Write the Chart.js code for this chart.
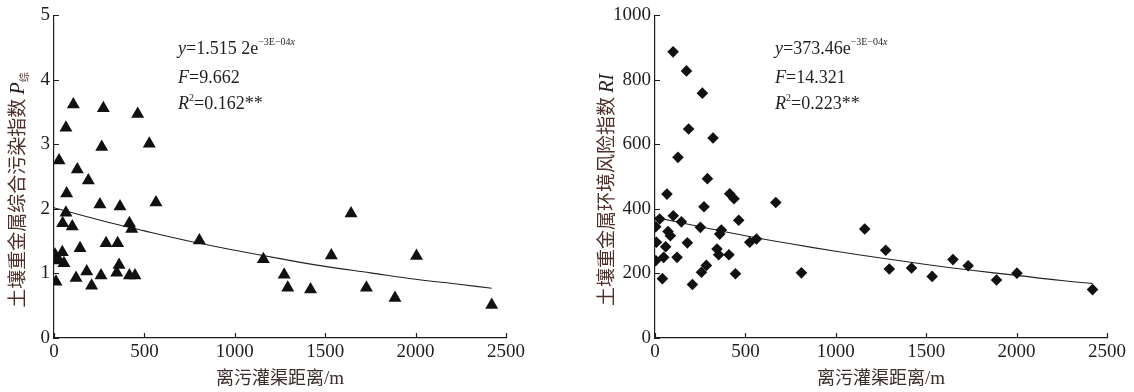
<!DOCTYPE html>
<html>
<head>
<meta charset="utf-8">
<script src="https://cdn.jsdelivr.net/npm/chart.js"></script>
<style>
  html, body { margin: 0; padding: 0; background: #fff; }
  #wrap { position: relative; width: 1134px; height: 392px; }
  canvas { position: absolute; top: 0; }
</style>
</head>
<body>
<div id="wrap">
  <canvas id="left" width="567" height="392" style="left:0"></canvas>
  <canvas id="right" width="567" height="392" style="left:567px"></canvas>
</div>
<script>
// distance to the irrigation channel (m) and the two indices
const xTicks = [0, 500, 1000, 1500, 2000, 2500];

const leftX = [107, 273, 463, 66, 264, 527, 28, 129, 190, 70, 254, 365, 564, 66, 48, 101, 417, 430, 288, 352,
  144, 6, 46, 6, 55, 360, 181, 260, 347, 417, 448, 122, 11, 208, 804, 1158, 1273, 1293, 1419, 1534,
  1643, 1728, 1886, 2005, 2421, 24];
const leftY = [3.62, 3.56, 3.47, 3.26, 2.96, 3.01, 2.75, 2.61, 2.44, 2.24, 2.07, 2.04, 2.10, 1.94, 1.78, 1.73, 1.78, 1.69, 1.47, 1.47,
  1.39, 1.29, 1.33, 1.20, 1.16, 1.13, 1.03, 0.97, 1.01, 0.97, 0.97, 0.93, 0.87, 0.81, 1.51, 1.22, 0.98, 0.78, 0.75, 1.28,
  1.93, 0.78, 0.62, 1.27, 0.51, 1.22];

const rightX = [100, 174, 262, 186, 321, 127, 290, 66, 413, 437, 271, 668, 463, 26, 4, 101, 146, 251, 367, 358,
  72, 85, 8, 59, 179, 524, 561, 343, 352, 409, 122, 48, 4, 284, 257, 445, 41, 207, 810, 1160,
  1276, 1296, 1419, 1533, 1648, 1732, 1889, 2002, 2420];
const rightY = [887, 828, 759, 648, 620, 560, 494, 446, 447, 432, 407, 420, 365, 369, 345, 379, 360, 343, 335, 322,
  330, 317, 297, 283, 295, 297, 307, 276, 258, 258, 250, 250, 240, 225, 204, 199, 184, 166, 202, 338,
  272, 214, 217, 191, 243, 224, 180, 201, 150];

// fitted curves
const leftFitX = [0, 250, 500, 750, 1000, 1250, 1500, 1750, 2000, 2250, 2421];
const leftFitY = [2.02, 1.83, 1.66, 1.50, 1.36, 1.23, 1.11, 1.01, 0.91, 0.83, 0.77];
const rightFitX = [0, 250, 500, 750, 1000, 1250, 1500, 1750, 2000, 2250, 2420];
const rightFitY = [374, 345, 317, 292, 269, 248, 228, 210, 194, 178, 169];

const SERIF = '"Liberation Serif", "Times New Roman", serif';
const CJK = '"Noto Sans CJK SC", sans-serif';
const INK = '#1e1e1e';
const BROWN = '#4e2f2a';

function pairs(xs, ys) {
  return xs.map((x, i) => ({ x: x, y: ys[i] }));
}

function drawRuns(ctx, x, y, runs, align) {
  let total = 0;
  runs.forEach(r => { ctx.font = r.font; total += ctx.measureText(r.t).width; });
  let cx = align === 'center' ? x - total / 2 : x;
  ctx.textAlign = 'left';
  ctx.textBaseline = 'alphabetic';
  runs.forEach(r => {
    ctx.font = r.font;
    ctx.fillStyle = r.color || INK;
    ctx.fillText(r.t, cx, y + (r.dy || 0));
    cx += ctx.measureText(r.t).width;
  });
}

// inward tick marks, axis titles and the fit equation
function decorPlugin(cfg) {
  return {
    id: 'decor',
    afterDraw(chart) {
      const ctx = chart.ctx;
      const xs = chart.scales.x, ys = chart.scales.y;
      const a = chart.chartArea;
      ctx.save();
      ctx.strokeStyle = INK;
      ctx.lineWidth = 1.2;
      ctx.beginPath();
      xs.ticks.forEach(t => {
        const p = Math.round(xs.getPixelForValue(t.value)) + 0.5;
        ctx.moveTo(p, a.bottom); ctx.lineTo(p, a.bottom - 5);
      });
      ys.ticks.forEach(t => {
        const p = Math.round(ys.getPixelForValue(t.value)) + 0.5;
        ctx.moveTo(a.left, p); ctx.lineTo(a.left + 5, p);
      });
      ctx.stroke();

      // x title
      drawRuns(ctx, (a.left + a.right) / 2, 384, [
        { t: '离污灌渠距离', font: '18px ' + CJK, color: '#3a2e2c' },
        { t: '/m', font: '19px ' + SERIF, color: '#3a2e2c' }
      ], 'center');

      // y title (rotated)
      ctx.save();
      ctx.translate(cfg.yTitleX, 190);
      ctx.rotate(-Math.PI / 2);
      drawRuns(ctx, 0, 7, cfg.yTitle, 'center');
      ctx.restore();

      // equation block
      const ex = cfg.eqX;
      drawRuns(ctx, ex, 54, cfg.eq1, 'left');
      drawRuns(ctx, ex, 83, cfg.eq2, 'left');
      drawRuns(ctx, ex, 109, cfg.eq3, 'left');
      ctx.restore();
    }
  };
}

function makeChart(id, opts) {
  const tickFont = { family: SERIF, size: 19 };
  return new Chart(document.getElementById(id), {
    type: 'scatter',
    data: {
      datasets: [
        {
          data: pairs(opts.xs, opts.ys),
          pointStyle: opts.marker,
          pointRadius: opts.radius,
          pointHoverRadius: opts.radius,
          backgroundColor: '#111',
          borderColor: '#111',
          borderWidth: 0
        },
        {
          type: 'line',
          data: pairs(opts.fitX, opts.fitY),
          borderColor: '#222',
          borderWidth: 1.1,
          pointRadius: 0,
          tension: 0.4,
          fill: false
        }
      ]
    },
    options: {
      responsive: false,
      devicePixelRatio: 1,
      animation: false,
      layout: { padding: { left: 0, right: opts.padRight, top: 13, bottom: 0 } },
      plugins: { legend: { display: false }, tooltip: { enabled: false } },
      scales: {
        x: {
          type: 'linear', min: 0, max: 2500,
          afterBuildTicks: s => { s.ticks = xTicks.map(v => ({ value: v })); },
          afterFit: s => { s.height = 54; },
          grid: { drawOnChartArea: false, drawTicks: false },
          border: { display: true, color: INK, width: 1.2 },
          ticks: { font: tickFont, color: INK, padding: 3, maxRotation: 0, callback: v => String(v) }
        },
        y: {
          type: 'linear', min: 0, max: opts.yMax,
          ticks: { stepSize: opts.yStep, font: tickFont, color: INK, padding: 4, callback: v => String(v) },
          afterFit: s => { s.width = opts.yWidth; },
          grid: { drawOnChartArea: false, drawTicks: false },
          border: { display: true, color: INK, width: 1.2 }
        }
      }
    },
    plugins: [decorPlugin(opts.decor)]
  });
}

const eqFont = '18px ' + SERIF;
const eqItal = 'italic 18px ' + SERIF;
const supFont = '10px ' + SERIF;
const supItal = 'italic 10px ' + SERIF;

makeChart('left', {
  xs: leftX, ys: leftY, fitX: leftFitX, fitY: leftFitY,
  marker: 'triangle', radius: 7.5,
  yMax: 5, yStep: 1, yWidth: 54, padRight: 61,
  decor: {
    yTitleX: 17,
    yTitle: [
      { t: '土壤重金属综合污染指数 ', font: '19px ' + CJK, color: BROWN },
      { t: 'P', font: 'italic 20px ' + SERIF, color: '#2a1f1d' },
      { t: '综', font: '10px ' + CJK, color: BROWN, dy: 4 }
    ],
    eqX: 178,
    eq1: [
      { t: 'y', font: eqItal }, { t: '=1.515 2e', font: eqFont },
      { t: '−3E−04', font: supFont, dy: -9 }, { t: 'x', font: supItal, dy: -9 }
    ],
    eq2: [{ t: 'F', font: eqItal }, { t: '=9.662', font: eqFont }],
    eq3: [{ t: 'R', font: eqItal }, { t: '2', font: supFont, dy: -8 }, { t: '=0.162**', font: eqFont }]
  }
});

makeChart('right', {
  xs: rightX, ys: rightY, fitX: rightFitX, fitY: rightFitY,
  marker: 'rectRot', radius: 5.8,
  yMax: 1000, yStep: 200, yWidth: 88, padRight: 27,
  decor: {
    yTitleX: 39,
    yTitle: [
      { t: '土壤重金属环境风险指数 ', font: '19px ' + CJK, color: BROWN },
      { t: 'RI', font: 'italic 20px ' + SERIF, color: '#2a1f1d' }
    ],
    eqX: 208,
    eq1: [
      { t: 'y', font: eqItal }, { t: '=373.46e', font: eqFont },
      { t: '−3E−04', font: supFont, dy: -9 }, { t: 'x', font: supItal, dy: -9 }
    ],
    eq2: [{ t: 'F', font: eqItal }, { t: '=14.321', font: eqFont }],
    eq3: [{ t: 'R', font: eqItal }, { t: '2', font: supFont, dy: -8 }, { t: '=0.223**', font: eqFont }]
  }
});
</script>
</body>
</html>
